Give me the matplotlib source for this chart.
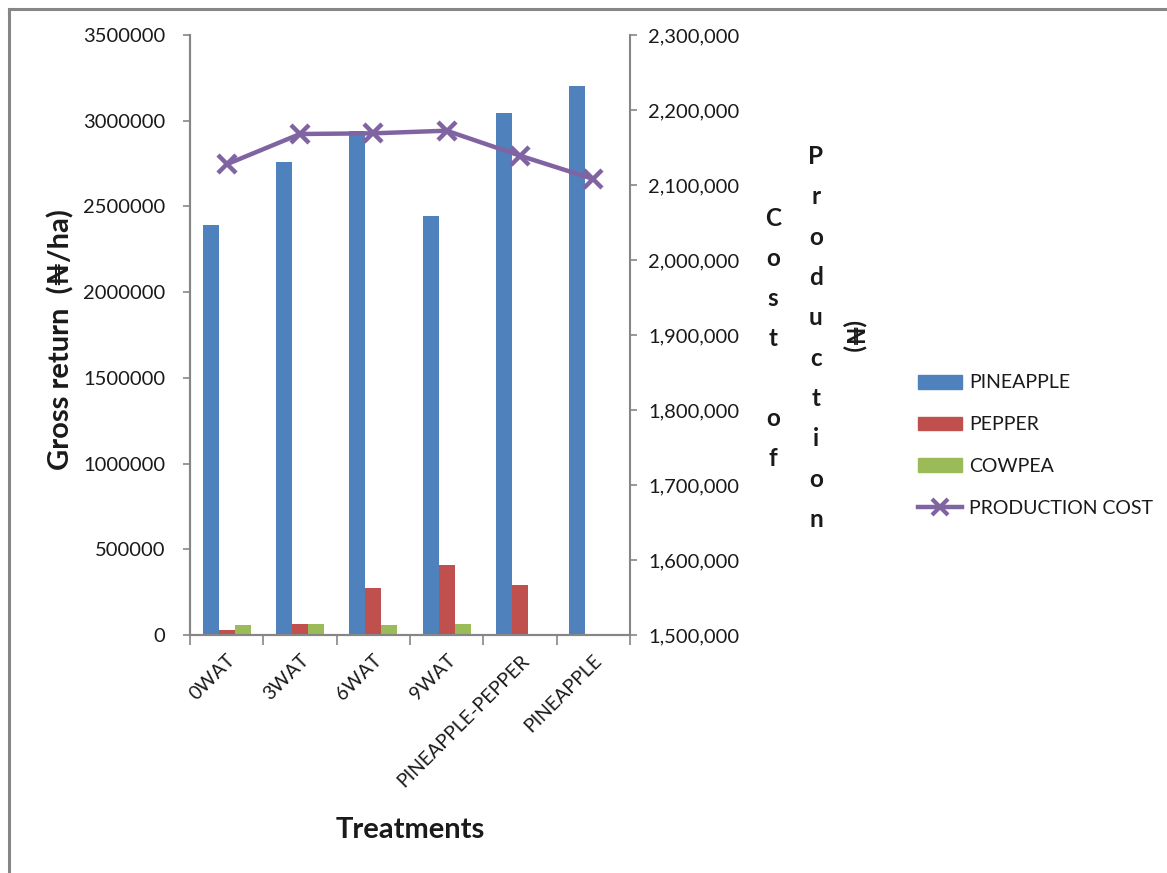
import matplotlib
matplotlib.use('Agg')
import matplotlib.pyplot as plt
import numpy as np
from matplotlib.lines import Line2D
from matplotlib.patches import Patch

plt.rcParams['font.family'] = ['Lato', 'DejaVu Sans']

# data
treatments = ['0WAT', '3WAT', '6WAT', '9WAT', 'PINEAPPLE-PEPPER', 'PINEAPPLE']
pineapple = [2390000, 2757000, 2940000, 2446000, 3043000, 3202000]
pepper = [29000, 64000, 274000, 410000, 290000, 0]
cowpea = [57000, 64000, 57000, 64000, 0, 0]
production_cost = [2127600, 2168000, 2168900, 2172400, 2139100, 2108000]

c_blue, c_red, c_green, c_purple = '#4F81BD', '#C0504D', '#9BBB59', '#8064A2'
grey = '#868686'
txt = '#1a1a1a'

W, H = 1167.0, 873.0
fig = plt.figure(figsize=(W / 100, H / 100), dpi=100)
ax = fig.add_axes([190 / W, 1 - 635 / H, 440 / W, 600 / H])
ax2 = ax.twinx()

x = np.arange(len(treatments))
w = 0.218
ax.bar(x - w, pineapple, w, color=c_blue, zorder=2)
ax.bar(x, pepper, w, color=c_red, zorder=2)
ax.bar(x + w, cowpea, w, color=c_green, zorder=2)

ax2.plot(x, production_cost, color=c_purple, lw=3.2, marker='x',
         ms=13, mew=3.2, zorder=3)

# left axis
ax.set_xlim(-0.5, len(treatments) - 0.5)
ax.set_ylim(0, 3500000)
ax.set_yticks(np.arange(0, 3500001, 500000))
ax.set_yticklabels([str(v) for v in range(0, 3500001, 500000)])
ax.tick_params(axis='y', direction='out', length=5, width=1.2, color=grey,
               labelsize=14.5, pad=13, labelcolor=txt)
ax.set_xticks(x)
ax.set_xticklabels(treatments, rotation=45, ha='right', rotation_mode='anchor',
                   fontsize=14, color=txt)
ax.tick_params(axis='x', length=0, pad=12)
ax.set_xticks(np.arange(-0.5, len(treatments)), minor=True)
ax.tick_params(axis='x', which='minor', direction='out', length=7, width=1.2,
               color=grey)

# right axis
ax2.set_ylim(1500000, 2300000)
ax2.set_yticks(np.arange(1500000, 2300001, 100000))
ax2.set_yticklabels(['{:,}'.format(v) for v in range(1500000, 2300001, 100000)])
ax2.tick_params(axis='y', direction='out', length=5, width=1.2, color=grey,
                labelsize=14.5, pad=8, labelcolor=txt)

for a in (ax, ax2):
    a.spines['top'].set_visible(False)
    for s in ('left', 'right', 'bottom'):
        a.spines[s].set_color(grey)
        a.spines[s].set_linewidth(1.5)
ax.spines['right'].set_visible(False)

# axis titles
fig.text(61 / W, 1 - 340 / H, 'Gross return  (\u20a6/ha)', fontsize=21,
         fontweight='bold', rotation=90, ha='center', va='center', color=txt)
fig.text(410 / W, 1 - 830 / H, 'Treatments', fontsize=21, fontweight='bold',
         ha='center', va='center', color=txt)

# right axis title as stacked letters
def column(text, xpix, step, center=338):
    n = len(text)
    for i, ch in enumerate(text):
        if ch == ' ':
            continue
        ypix = center + (i - (n - 1) / 2) * step
        fig.text(xpix / W, 1 - ypix / H, ch, fontsize=17.5, fontweight='bold',
                 ha='center', va='center', color=txt)

column('Cost of', 773, 40)
column('Production', 816, 40.3)
fig.text(853 / W, 1 - 336 / H, '(\u20a6)', fontsize=17.5, fontweight='bold',
         rotation=-90, ha='center', va='center', color=txt)

# legend
handles = [Patch(color=c_blue), Patch(color=c_red), Patch(color=c_green),
           Line2D([], [], color=c_purple, lw=3.2, marker='x', ms=11, mew=3)]
labels = ['PINEAPPLE', 'PEPPER', 'COWPEA', 'PRODUCTION COST']
fig.legend(handles, labels, loc='upper left',
           bbox_to_anchor=(900 / W, 1 - 357 / H), frameon=False,
           fontsize=14, handlelength=2.3, handleheight=0.7, handletextpad=0.35,
           labelspacing=1.27, labelcolor=txt)

# outer frame (top and left edges)
fig.add_artist(Line2D([9 / W, 1.0], [1 - 9 / H] * 2, color=grey, lw=2.2))
fig.add_artist(Line2D([9 / W] * 2, [0, 1 - 9 / H], color=grey, lw=2.2))

fig.savefig('out.png', dpi=100)
